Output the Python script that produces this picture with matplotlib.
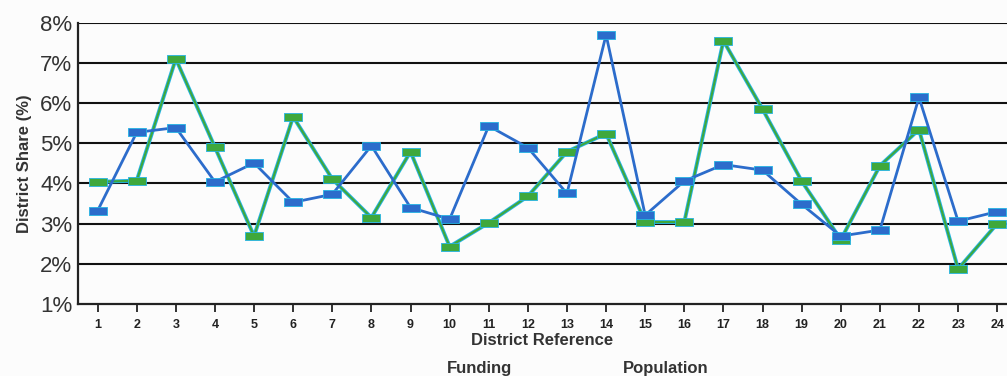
import matplotlib.pyplot as plt
from matplotlib.ticker import FuncFormatter

plt.rcParams['font.family'] = ['Liberation Sans', 'DejaVu Sans']

# District data (share of total, %)
districts = list(range(1, 25))
tick_labels = [str(d) for d in districts]
funding = [3.32, 5.27, 5.39, 4.04, 4.51, 3.53, 3.73, 4.94, 3.40, 3.11, 5.43, 4.89,
           3.75, 7.70, 3.21, 4.06, 4.47, 4.33, 3.48, 2.69, 2.84, 6.14, 3.06, 3.30]
population = [4.04, 4.07, 7.10, 4.90, 2.69, 5.66, 4.11, 3.15, 4.79, 2.43, 3.02, 3.68,
              4.79, 5.24, 3.04, 3.04, 7.55, 5.85, 4.06, 2.60, 4.44, 5.34, 1.87, 3.00]

blue = '#2c6ccb'
green = '#3fa83c'
cyan = '#25b4e4'
bar = [(-1, -0.4), (1, -0.4), (1, 0.4), (-1, 0.4), (-1, -0.4)]

fig = plt.figure(figsize=(10.07, 3.76), dpi=100)
fig.patch.set_facecolor('#fcfcfc')
ax = fig.add_axes([0.0775, 0.1915, 0.9225, 0.7481])
ax.set_facecolor('#fcfcfc')

# horizontal grid lines
for v in range(2, 9):
    ax.axhline(v, color='#111111', lw=1.5, zorder=1)

ax.plot(districts, funding, color=blue, lw=2.0, marker=bar, ms=13,
        mfc=blue, mec=cyan, mew=0.6, zorder=3, label='Funding')
ax.plot(districts, population, color=cyan, lw=2.8, zorder=2)
ax.plot(districts, population, color=green, lw=1.5, marker=bar, ms=13,
        mfc=green, mec=cyan, mew=0.6, zorder=2.5, label='Population')

ax.set_xlim(0.5, 24.25)
ax.set_ylim(1, 8)
ax.set_xticks(districts)
ax.set_xticklabels(tick_labels, fontsize=9, fontweight='bold', color='#222222')
ax.set_yticks(range(1, 9))
ax.yaxis.set_major_formatter(FuncFormatter(lambda v, p: f'{v:.0f}%'))
ax.tick_params(axis='y', length=0, labelsize=16, colors='#333333', pad=4)
ax.tick_params(axis='x', direction='out', length=6, width=1.3, color='#222222', pad=5)

for s in ['top', 'right']:
    ax.spines[s].set_visible(False)
ax.spines['left'].set_color('#222222')
ax.spines['left'].set_linewidth(1.6)
ax.spines['bottom'].set_color('#222222')
ax.spines['bottom'].set_linewidth(1.6)

ax.set_xlabel('District Reference', fontsize=12, fontweight='bold', color='#333333', labelpad=1)
ax.set_ylabel('District Share (%)', fontsize=12, fontweight='bold', color='#333333', labelpad=6)

# legend labels (markers fall below the visible area)
fig.text(0.444, 0.0, 'Funding', fontsize=12, fontweight='bold', color='#333333', va='bottom')
fig.text(0.619, 0.0, 'Population', fontsize=12, fontweight='bold', color='#333333', va='bottom')

fig.savefig('out.png', dpi=100, facecolor=fig.get_facecolor())
